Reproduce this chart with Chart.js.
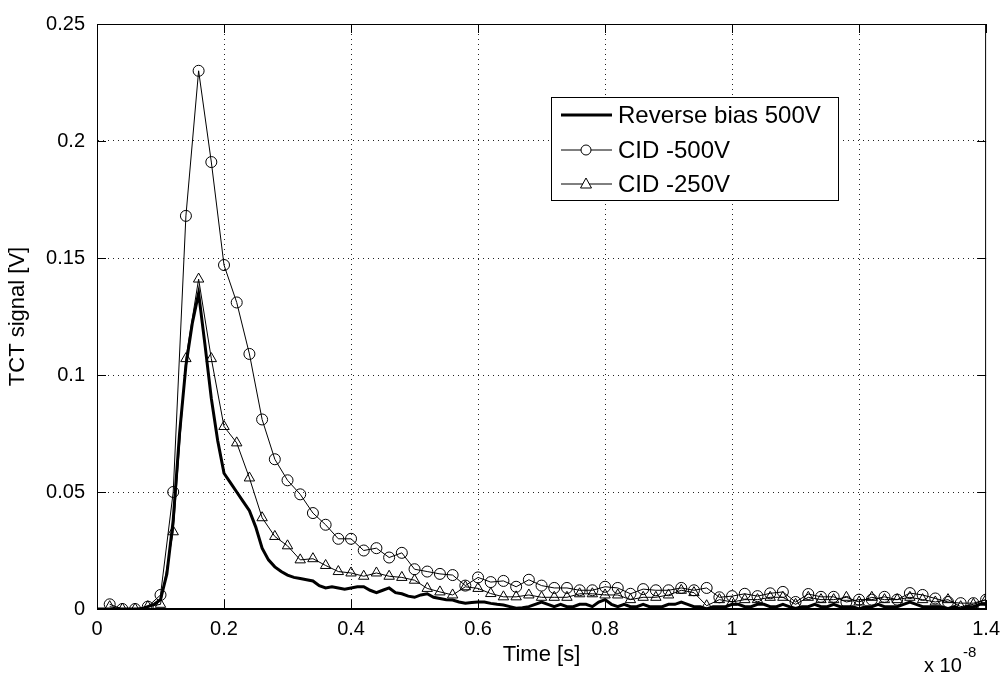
<!DOCTYPE html>
<html>
<head>
<meta charset="utf-8">
<script src="https://cdn.jsdelivr.net/npm/chart.js@4.4.0/dist/chart.umd.min.js"></script>
<style>
  html, body { margin: 0; padding: 0; background: #fff; }
  canvas { display: block; }
</style>
</head>
<body>
<canvas id="grafico" width="1008" height="682"></canvas>
<script>
// tiempos (en unidades de 1e-8 s)
const tiempoMarcas = [0.02,0.04,0.06,0.08,0.10,0.12,0.14,0.16,0.18,0.20,0.22,0.24,0.26,0.28,0.30,0.32,0.34,0.36,0.38,0.40,
  0.42,0.44,0.46,0.48,0.50,0.52,0.54,0.56,0.58,0.60,0.62,0.64,0.66,0.68,0.70,0.72,0.74,0.76,0.78,0.80,
  0.82,0.84,0.86,0.88,0.90,0.92,0.94,0.96,0.98,1.00,1.02,1.04,1.06,1.08,1.10,1.12,1.14,1.16,1.18,1.20,
  1.22,1.24,1.26,1.28,1.30,1.32,1.34,1.36,1.38,1.40];

const tiempoFino = [0.00,0.01,0.02,0.03,0.04,0.05,0.06,0.07,0.08,0.09,0.10,0.11,0.12,0.13,0.14,0.15,0.16,0.17,0.18,0.19,
  0.20,0.21,0.22,0.23,0.24,0.25,0.26,0.27,0.28,0.29,0.30,0.31,0.32,0.33,0.34,0.35,0.36,0.37,0.38,0.39,
  0.40,0.41,0.42,0.43,0.44,0.45,0.46,0.47,0.48,0.49,0.50,0.51,0.52,0.53,0.54,0.55,0.56,0.57,0.58,0.59,
  0.60,0.61,0.62,0.63,0.64,0.65,0.66,0.67,0.68,0.69,0.70,0.71,0.72,0.73,0.74,0.75,0.76,0.77,0.78,0.79,
  0.80,0.81,0.82,0.83,0.84,0.85,0.86,0.87,0.88,0.89,0.90,0.91,0.92,0.93,0.94,0.95,0.96,0.97,0.98,0.99,
  1.00,1.01,1.02,1.03,1.04,1.05,1.06,1.07,1.08,1.09,1.10,1.11,1.12,1.13,1.14,1.15,1.16,1.17,1.18,1.19,
  1.20,1.21,1.22,1.23,1.24,1.25,1.26,1.27,1.28,1.29,1.30,1.31,1.32,1.33,1.34,1.35,1.36,1.37,1.38,1.39,1.40];

// Reverse bias 500V (linea gruesa)
const reverse500 = [0.000,0.000,0.000,0.000,0.000,0.000,0.000,0.000,0.001,0.002,0.004,0.015,0.038,0.075,0.104,0.122,0.135,0.113,0.090,0.072,
  0.058,0.054,0.050,0.046,0.042,0.035,0.026,0.021,0.018,0.016,0.0145,0.0135,0.013,0.0125,0.012,0.010,0.009,0.0095,0.009,0.0085,
  0.009,0.0095,0.0095,0.008,0.007,0.008,0.009,0.007,0.0065,0.0055,0.005,0.006,0.0065,0.005,0.0045,0.004,0.0038,0.003,0.0025,0.0028,
  0.003,0.003,0.0024,0.002,0.0017,0.001,0.0003,0.0005,0.001,0.002,0.003,0.002,0.001,0.002,0.001,0.001,0.002,0.002,0.001,0.003,
  0.004,0.002,0.001,0.002,0.001,0.001,0.002,0.001,0.001,0.001,0.002,0.002,0.003,0.002,0.001,0.001,0.000,0.001,0.001,0.001,
  0.002,0.002,0.001,0.001,0.002,0.002,0.001,0.001,0.002,0.001,0.000,0.001,0.001,0.002,0.001,0.001,0.002,0.001,0.001,0.001,
  0.000,0.001,0.001,0.002,0.001,0.001,0.001,0.002,0.003,0.002,0.001,0.001,0.001,0.001,0.000,0.001,0.000,0.001,0.001,0.002,0.002];

// CID -500V (circulos)
const cid500 = [0.002,0.000,0.000,0.001,0.006,0.050,0.168,0.230,0.191,0.147,0.131,0.109,0.081,0.064,0.055,0.049,0.041,0.036,0.030,0.030,
  0.025,0.026,0.022,0.024,0.017,0.016,0.015,0.0145,0.010,0.0135,0.0115,0.012,0.0095,0.0125,0.010,0.009,0.009,0.008,0.008,0.0095,
  0.009,0.0065,0.0085,0.008,0.008,0.009,0.008,0.009,0.005,0.0055,0.0065,0.0055,0.0067,0.0073,0.003,0.0064,0.0052,0.0052,0.003,0.004,
  0.004,0.0052,0.004,0.0068,0.006,0.0045,0.003,0.0025,0.0025,0.004];

// CID -250V (triangulos)
const cid250 = [0.001,0.000,0.000,0.001,0.002,0.033,0.107,0.141,0.107,0.078,0.071,0.056,0.039,0.031,0.027,0.021,0.0215,0.0186,0.016,0.0154,
  0.014,0.0154,0.014,0.0135,0.0123,0.0088,0.0073,0.006,0.0095,0.0088,0.0066,0.0052,0.0052,0.006,0.005,0.005,0.005,0.0065,0.0065,0.006,
  0.006,0.004,0.005,0.005,0.006,0.008,0.007,0.0014,0.004,0.003,0.004,0.004,0.005,0.005,0.002,0.005,0.004,0.004,0.005,0.003,
  0.005,0.004,0.004,0.005,0.004,0.003,0.004,0.001,0.002,0.004];

const etiquetas = ['Reverse bias 500V', 'CID -500V', 'CID -250V'];
const ticksX = [0, 0.2, 0.4, 0.6, 0.8, 1, 1.2, 1.4];
const ticksY = [0, 0.05, 0.1, 0.15, 0.2, 0.25];

const FUENTE = "Arial, 'Liberation Sans', sans-serif";

function pares(xs, ys){
  return ys.map((v, i) => ({x: xs[i], y: v}));
}

function fmt(v){
  return String(parseFloat(v.toFixed(3)));
}

// caja, ticks hacia dentro, leyenda y exponente estilo MATLAB
const estiloMatlab = {
  id: 'estiloMatlab',
  afterDraw(chart){
    const ctx = chart.ctx;
    const a = chart.chartArea;
    const sx = chart.scales.x, sy = chart.scales.y;
    ctx.save();
    ctx.strokeStyle = '#000';
    ctx.lineWidth = 1;
    ctx.strokeRect(a.left + 0.5, a.top + 0.5, a.right - a.left - 1, a.bottom - a.top - 1);
    ctx.beginPath();
    ticksX.forEach(t => {
      const px = Math.round(sx.getPixelForValue(t)) + 0.5;
      ctx.moveTo(px, a.bottom); ctx.lineTo(px, a.bottom - 9);
      ctx.moveTo(px, a.top); ctx.lineTo(px, a.top + 9);
    });
    ticksY.forEach(t => {
      const py = Math.round(sy.getPixelForValue(t)) + 0.5;
      ctx.moveTo(a.left, py); ctx.lineTo(a.left + 9, py);
      ctx.moveTo(a.right, py); ctx.lineTo(a.right - 9, py);
    });
    ctx.stroke();

    // leyenda
    const lx = 551, ly = 97, lw = 287, lh = 103;
    ctx.fillStyle = '#fff';
    ctx.fillRect(lx, ly, lw, lh);
    ctx.strokeRect(lx + 0.5, ly + 0.5, lw, lh);
    const filas = [115, 150, 184];
    ctx.font = '24px ' + FUENTE;
    ctx.textBaseline = 'middle';
    filas.forEach((fy, i) => {
      ctx.beginPath();
      ctx.lineWidth = i === 0 ? 3 : 1;
      ctx.moveTo(561, fy); ctx.lineTo(612, fy);
      ctx.stroke();
      ctx.lineWidth = 1;
      ctx.fillStyle = '#fff';
      if (i === 1){
        ctx.beginPath(); ctx.arc(586, fy, 5, 0, Math.PI * 2); ctx.fill(); ctx.stroke();
      } else if (i === 2){
        ctx.beginPath();
        ctx.moveTo(586, fy - 6); ctx.lineTo(591.5, fy + 4); ctx.lineTo(580.5, fy + 4); ctx.closePath();
        ctx.fill(); ctx.stroke();
      }
      ctx.fillStyle = '#000';
      ctx.fillText(etiquetas[i], 618, fy + 1);
    });

    // x 10^-8
    ctx.font = '20px ' + FUENTE;
    ctx.textBaseline = 'alphabetic';
    ctx.fillText('x 10', 924, 672);
    ctx.font = '15px ' + FUENTE;
    ctx.fillText('-8', 963, 657);
    ctx.restore();
  }
};

const ctx = document.getElementById('grafico').getContext('2d');
window.myChart = new Chart(ctx, {
  type: 'line',
  data: {
    datasets: [{
      label: etiquetas[0],
      data: pares(tiempoFino, reverse500),
      borderColor: '#000',
      borderWidth: 3,
      pointRadius: 0,
      tension: 0
    }, {
      label: etiquetas[1],
      data: pares(tiempoMarcas, cid500),
      borderColor: '#000',
      borderWidth: 1,
      pointStyle: 'circle',
      pointRadius: 5.5,
      pointBorderWidth: 1,
      pointBorderColor: '#000',
      pointBackgroundColor: 'rgba(0,0,0,0)',
      tension: 0
    }, {
      label: etiquetas[2],
      data: pares(tiempoMarcas, cid250),
      borderColor: '#000',
      borderWidth: 1,
      pointStyle: 'triangle',
      pointRadius: 6,
      pointBorderWidth: 1,
      pointBorderColor: '#000',
      pointBackgroundColor: 'rgba(0,0,0,0)',
      tension: 0
    }]
  },
  options: {
    responsive: false,
    animation: false,
    layout: { padding: { top: 17, right: 18, left: 0, bottom: 0 } },
    plugins: {
      legend: { display: false },
      tooltip: { enabled: false }
    },
    scales: {
      x: {
        type: 'linear',
        min: 0, max: 1.4,
        afterFit: s => { s.height = 73; },
        afterBuildTicks: s => { s.ticks = ticksX.map(v => ({value: v})); },
        ticks: {
          color: '#000', padding: 8, maxRotation: 0, autoSkip: false,
          font: { family: FUENTE, size: 20 },
          callback: v => fmt(v)
        },
        grid: {
          drawTicks: false,
          color: c => (c.tick && (c.tick.value === 0 || c.tick.value === 1.4)) ? 'rgba(0,0,0,0)' : '#222',
          lineWidth: 1
        },
        border: { color: '#000', dash: [1, 4] },
        title: {
          display: true, text: 'Time [s]', color: '#000',
          font: { family: FUENTE, size: 22 },
          padding: { top: 0, bottom: 14 }
        }
      },
      y: {
        min: 0, max: 0.25,
        afterFit: s => { s.width = 97; },
        afterBuildTicks: s => { s.ticks = ticksY.map(v => ({value: v})); },
        ticks: {
          color: '#000', padding: 12,
          font: { family: FUENTE, size: 20 },
          callback: v => fmt(v)
        },
        grid: {
          drawTicks: false,
          color: c => (c.tick && (c.tick.value === 0 || c.tick.value === 0.25)) ? 'rgba(0,0,0,0)' : '#222',
          lineWidth: 1
        },
        border: { color: '#000', dash: [1, 4] },
        title: {
          display: true, text: 'TCT signal [V]', color: '#000',
          font: { family: FUENTE, size: 22 },
          padding: { top: 5, bottom: 0 }
        }
      }
    }
  },
  plugins: [estiloMatlab]
});
</script>
</body>
</html>
